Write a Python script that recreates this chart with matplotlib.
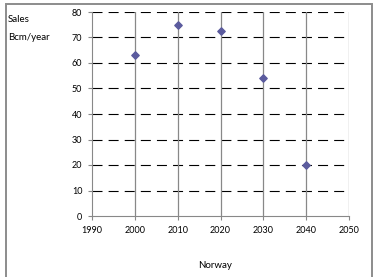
import matplotlib
matplotlib.use("Agg")
import matplotlib.pyplot as plt
from matplotlib.patches import Rectangle

plt.rcParams['font.family'] = ['Lato', 'DejaVu Sans']

years = [2000, 2010, 2020, 2030, 2040]
sales = [63, 75, 72.5, 54, 20]
xticks = [1990, 2000, 2010, 2020, 2030, 2040, 2050]
yticks = [0, 10, 20, 30, 40, 50, 60, 70, 80]

W, H = 382, 277
fig = plt.figure(figsize=(W / 100, H / 100), dpi=100)

# outer chart border (open at the bottom edge of the picture)
fig.patches.append(Rectangle((6 / W, -0.05), (372 - 6) / W, 1.05 - 4 / H,
                             transform=fig.transFigure, fill=False,
                             edgecolor='#8c8c8c', linewidth=1.4))

ax = fig.add_axes([92 / W, (H - 216) / H, (349 - 92) / W, (216 - 12) / H])
ax.set_xlim(1990, 2050)
ax.set_ylim(0, 80)
ax.set_xticks(xticks)
ax.set_yticks(yticks)

for y in yticks[1:]:
    ax.axhline(y, color='black', linestyle=(0, (9, 5.5)), linewidth=0.8, zorder=1)
for x in xticks[1:]:
    ax.axvline(x, color='#888888', linewidth=0.9, zorder=1)

ax.scatter(years, sales, marker='D', s=14, color='#5b5b9e', zorder=3)

for s in ['top', 'right']:
    ax.spines[s].set_visible(False)
for s in ['left', 'bottom']:
    ax.spines[s].set_color('#888888')
ax.tick_params(direction='out', length=3, width=0.8, color='#888888',
               labelsize=6.5, pad=4)

fig.text(8 / W, 1 - 20 / H, 'Sales', fontsize=7, va='center', ha='left')
fig.text(8 / W, 1 - 37 / H, 'Bcm/year', fontsize=7, va='center', ha='left')
fig.text(215 / W, 1 - 265 / H, 'Norway', fontsize=7, va='center', ha='center')

fig.savefig('out.png', dpi=100)
